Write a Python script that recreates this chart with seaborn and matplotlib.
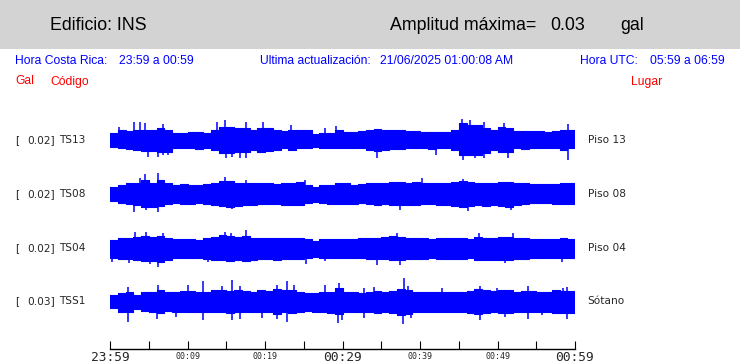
import numpy as np
import pandas as pd
import matplotlib
matplotlib.use("Agg")
import matplotlib.pyplot as plt
import seaborn as sns
from matplotlib.patches import Rectangle

# ---------------- data ----------------
codes = ["TS13", "TS08", "TS04", "TSS1"]
places = ["Piso 13", "Piso 08", "Piso 04", "Sótano"]
scales = ["0.02", "0.02", "0.02", "0.03"]
minutes = list(range(60))
tick_minutes = [0, 10, 20, 30, 40, 50, 60]
tick_labels = ["23:59", "00:09", "00:19", "00:29", "00:39", "00:49", "00:59"]
big_ticks = ["23:59", "00:29", "00:59"]

# per-minute envelope of each trace (upper / lower deflection, display counts)
ts13_up = [6.7, 10, 9, 10, 10, 10, 11.7, 10, 6.7, 6.7,
           8, 8, 6.7, 10, 13.3, 13.3, 11.7, 11.7, 10, 12,
           11.7, 10, 9, 10, 10, 10, 5.7, 6.7, 6.7, 10,
           7.7, 8.3, 9, 10, 11, 10, 10, 10, 9, 9,
           8.3, 8.3, 8.3, 8.3, 10, 16.7, 15, 15, 11.7, 10,
           13.3, 11.7, 9, 9, 9, 9, 8.3, 9, 10, 10]
ts13_down = [6.7, 8, 9.5, 10, 11, 11, 11.7, 11.7, 8.3, 8.3,
             8.3, 9, 8.3, 10, 13.3, 13.3, 11.7, 11.7, 10, 12,
             11, 10, 8.3, 10, 8.3, 8.3, 6.7, 7.7, 8.3, 8.3,
             8.3, 8.3, 8.3, 10, 11, 10, 9, 9, 8.3, 8.3,
             8.3, 9, 8.3, 8.3, 10, 15, 15, 15, 13.3, 10,
             11.7, 11.7, 8.3, 9, 8.3, 8.3, 8.3, 8.3, 10, 8.3]
ts08_up = [7.3, 9, 10.7, 10.7, 14, 10.7, 14, 10.7, 9, 9.7,
           9, 9, 9.7, 10.7, 12.7, 12.7, 10.7, 10.7, 10.7, 10.7,
           10.7, 9.7, 10.7, 10.7, 12.3, 9, 7.3, 9, 9, 10.7,
           10.7, 9, 9.7, 10.7, 10.7, 10.7, 12.3, 12.3, 10.7, 12.3,
           10.7, 10.7, 10.7, 10.7, 12.3, 12.7, 12.3, 10.7, 10.7, 10.7,
           12.3, 12.3, 10.7, 10.7, 9.7, 9.7, 9.7, 9.7, 10.7, 10.7]
ts08_down = [7, 9.3, 10.3, 11, 12.7, 12.7, 11.7, 10.3, 9.3, 10.3,
             10.3, 9.3, 10.3, 11, 11.7, 12.7, 11.7, 11, 11, 10.3,
             10.3, 10.3, 11, 11, 11, 9.3, 8.3, 9.3, 10.3, 10.3,
             10.3, 10.3, 9.3, 10.3, 11, 10.3, 11, 11, 11, 11,
             10.3, 10.3, 11, 11, 11.7, 12.7, 11.7, 11, 11.7, 11,
             11.7, 12.7, 11, 10.3, 9.3, 9.3, 9.3, 10.3, 10.3, 10.3]
ts04_up = [8, 9.7, 10.3, 11.3, 12.3, 11.3, 12.3, 9.7, 9, 9,
           9, 8, 9.7, 11.3, 13, 12.3, 11.3, 12.3, 10.3, 9.7,
           10.3, 9.7, 9.7, 10.3, 9.7, 9, 7, 9, 9, 9,
           9, 9, 9.7, 10.3, 10.3, 11.3, 12.3, 11.3, 9.7, 9.7,
           9.7, 9, 9.7, 9.7, 9.7, 10.3, 9, 11.3, 10.3, 10.3,
           11.3, 11.3, 9.7, 9.7, 9, 9, 9, 9, 9.7, 9]
ts04_down = [9.7, 11, 11, 12, 13, 13, 13.7, 12, 10.3, 10.3,
             10.3, 9.7, 11, 12, 12, 13, 12, 13, 12, 11,
             11, 12, 11, 11, 11, 10.3, 8.7, 10.3, 10.3, 10.3,
             10.3, 9.7, 10.3, 11, 11, 11, 12, 12, 11, 11,
             11, 10.3, 11, 11, 11, 11, 10.3, 12, 12, 12,
             12, 12, 11, 11, 10.3, 10.3, 10.3, 10.3, 10.3, 9.7]
tss1_up = [6, 7.7, 9.3, 6, 9.3, 9.3, 11, 9.3, 9.3, 10,
           10, 9.3, 9.3, 11, 11, 10, 11, 10, 9.3, 11,
           10, 12, 11, 11, 9.3, 7.7, 7.7, 9.3, 9.3, 12.7,
           9.3, 9.3, 7.7, 9.3, 10, 9.3, 10, 12, 11, 9.3,
           9.3, 9.3, 8.7, 8.7, 9.3, 8.7, 10, 12, 11, 10,
           11, 11, 9.3, 10, 10, 9.3, 9.3, 11, 10, 10]
tss1_down = [7, 10.7, 10.7, 8, 10, 10.7, 12.3, 10, 10.7, 11.3,
             10.7, 11.3, 10.7, 11.3, 11.3, 12.3, 11.3, 10.7, 10.7, 11.3,
             11.3, 13.3, 11.3, 12.3, 11.3, 10, 10.7, 11.3, 12.3, 13.3,
             10.7, 11.3, 10.7, 11.3, 12.3, 11.3, 12.3, 14, 13.3, 11.3,
             10.7, 10.7, 10.7, 10.7, 11.3, 10.7, 12.3, 13.3, 12.3, 11.3,
             12.3, 12.3, 11.3, 11.3, 11.3, 10.7, 10.7, 12.3, 12.3, 12.3]

# isolated peaks (minute, deflection: + up / - down)
ts13_peak_t = [1.2, 3.1, 3.9, 4.5, 4.9, 6.2, 6.9, 6.9, 7.5, 13.8, 14.8, 15.0, 15.7, 16.8,
               17.6, 17.6, 19.7, 23.4, 27.7, 29.1, 34.5, 42.1, 45.4, 45.5, 46.5, 47.1,
               48.2, 48.2, 50.9, 51.3, 59.1, 59.1]
ts13_peak_a = [13.3, 18.3, 18.3, 16.7, -16.7, -16.7, 15.7, -15, -15, 18.3, 20, -18.3, -16.7, -17.7,
               18.3, -17.7, 18.3, 15, 11.7, 14.3, -17.7, -15, 21, -20, 20, -18.3,
               18.3, -18.3, 16.7, -17.7, 15.7, -20]
ts08_peak_t = [3.1, 3.9, 4.5, 4.6, 6.2, 6.2, 14.8, 15.7, 17.5, 25.1, 37.4, 40.3, 45.6, 46.2, 51.8]
ts08_peak_a = [-17.7, 15.7, 19.7, -16, 20.7, -18.3, 17.3, -15, 14, 14, -16, 16.3, 15, -17, -16]
ts04_peak_t = [0.2, 2.4, 3.2, 4.6, 5.1, 6.2, 6.9, 12.7, 14.8, 15.6, 17.6, 25.3, 27.7, 34.4,
               37.0, 37.4, 47.6, 51.0, 52.0, 58.3]
ts04_peak_a = [-13.7, -15.3, 16.3, 16.3, -16.3, -18.7, 14.7, -13.7, 16.3, 14.7, 18, -16.3, -13, -17,
               14.7, -17, 14.7, -15.3, 14.7, -14.3]
tss1_peak_t = [2.3, 2.3, 6.1, 6.2, 8.5, 10.0, 12.0, 12.0, 14.5, 15.7, 15.7, 16.8, 16.8, 19.6,
               21.6, 21.6, 22.8, 22.8, 23.7, 27.7, 29.4, 29.5, 29.9, 32.8, 32.8, 34.1, 37.8,
               37.9, 38.5, 38.9, 42.9, 47.7, 47.7, 49.9, 51.0, 53.9, 53.9, 55.7, 58.4, 59.0, 59.0]
tss1_peak_a = [14.3, -20.7, -18, 16, -15.7, 16, 20, -19, 15.3, 21, -19, 15.3, -18, -17.3,
               16, -18, 20, -20.7, 16, 16, -22.3, 17.7, -19, 13.3, -16.7, 14.3, -23.3,
               22.7, 15.3, -16.7, 12.7, 15.3, -19, 13.3, -15.7, 15.3, -18, -14, 13.3, 14.3, -18]

envelopes = {"TS13": (ts13_up, ts13_down, ts13_peak_t, ts13_peak_a),
             "TS08": (ts08_up, ts08_down, ts08_peak_t, ts08_peak_a),
             "TS04": (ts04_up, ts04_down, ts04_peak_t, ts04_peak_a),
             "TSS1": (tss1_up, tss1_down, tss1_peak_t, tss1_peak_a)}

# ---------------- figure ----------------
sns.set_theme(style="white")
plt.rcParams["font.family"] = ["Liberation Sans", "DejaVu Sans"]

W, H = 740, 363
fig = plt.figure(figsize=(W / 100, H / 100), dpi=100)
fig.patch.set_facecolor("white")


def fx(x):
    return x / W


def fy(y):
    return 1 - y / H


# header band
fig.patches.append(Rectangle((0, fy(49)), 1, 49 / H, transform=fig.transFigure,
                             facecolor="#d3d3d3", edgecolor="none", zorder=0))
hfs = 12.8
fig.text(fx(50.5), fy(30), "Edificio: INS", fontsize=hfs, color="black", va="baseline")
fig.text(fx(390), fy(30), "Amplitud máxima=", fontsize=hfs, color="black", va="baseline")
fig.text(fx(550), fy(30), "0.03", fontsize=hfs, color="black", va="baseline")
fig.text(fx(620), fy(30), "gal", fontsize=hfs, color="black", va="baseline")

bfs = 8.7
blue = "#0000ff"
red = "#ff0000"
for x, s in [(15, "Hora Costa Rica:"), (119.5, "23:59 a 00:59"),
             (260.5, "Ultima actualización:"), (380, "21/06/2025 01:00:08 AM"),
             (580.5, "Hora UTC:"), (650, "05:59 a 06:59")]:
    fig.text(fx(x), fy(64.5), s, fontsize=bfs, color=blue, va="baseline")
for x, s in [(15, "Gal"), (50, "Código"), (630.5, "Lugar")]:
    fig.text(fx(x), fy(84.5), s, fontsize=bfs, color=red, va="baseline")

# trace axes: x in minutes, y in display counts (downwards)
ax_top, ax_bot = 110, 348.5
ax = fig.add_axes([fx(110), fy(ax_bot), 465 / W, (ax_bot - ax_top) / H])
ax.set_facecolor("none")
centers = [30, 84, 138, 191]  # layout offsets of each trace

for code, place, sc, c in zip(codes, places, scales, centers):
    up, down, pt, pa = envelopes[code]
    xs = [0] + [m + 0.5 for m in minutes] + [60]
    upper = [c - up[0]] + [c - u for u in up] + [c - up[-1]]
    lower = [c + down[0]] + [c + d for d in down] + [c + down[-1]]
    ax.fill_between(xs, upper, lower, step="mid", color=blue, linewidth=0)
    df = pd.DataFrame({"t": xs, "upper": upper, "lower": lower})
    sns.lineplot(data=df, x="t", y="upper", ax=ax, color=blue, lw=0.8, drawstyle="steps-mid")
    sns.lineplot(data=df, x="t", y="lower", ax=ax, color=blue, lw=0.8, drawstyle="steps-mid")
    ax.vlines(pt, c, [c - a for a in pa], color=blue, lw=1.1)
    yc = ax_top + c
    fig.text(fx(15), fy(yc), "[", fontsize=7.6, family="DejaVu Sans", va="center")
    fig.text(fx(27.7), fy(yc), sc + "]", fontsize=7.6, family="DejaVu Sans", va="center")
    fig.text(fx(59), fy(yc), code, fontsize=7.6, family="DejaVu Sans", va="center")
    fig.text(fx(587.5), fy(yc), place, fontsize=7.6, family="DejaVu Sans", va="center")

ax.set_xlim(0, 60)
ax.set_ylim(ax_bot - ax_top, 0)
ax.set_xlabel("")
ax.set_ylabel("")
ax.set_yticks([])
for side in ["left", "right", "top"]:
    ax.spines[side].set_visible(False)
ax.spines["bottom"].set_color("black")
ax.spines["bottom"].set_linewidth(1.0)
ax.set_xticks(range(0, 61, 5))
labels = []
for m in range(0, 61, 5):
    labels.append(tick_labels[tick_minutes.index(m)] if m in tick_minutes else "")
ax.set_xticklabels(labels, family="DejaVu Sans Mono")
ax.tick_params(axis="x", direction="in", length=5.8, width=0.8, color="black", pad=1.5,
               bottom=True)
for lab in ax.get_xticklabels():
    if lab.get_text() in big_ticks:
        lab.set_fontsize(9.3)
    else:
        lab.set_fontsize(6)
        lab.set_y(-0.008)

fig.savefig("out.png", dpi=100)
